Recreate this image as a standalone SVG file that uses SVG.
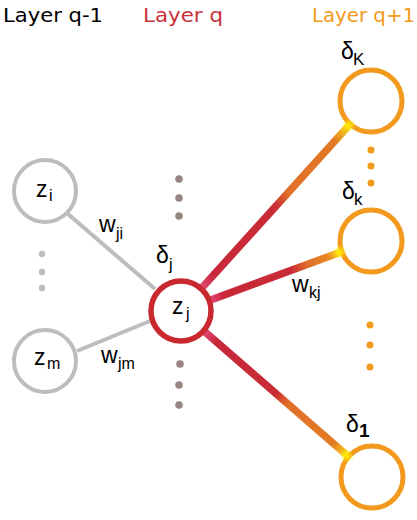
<svg xmlns="http://www.w3.org/2000/svg" width="417" height="520" viewBox="0 0 417 520">
<style>
.layer{font-family:"DejaVu Sans","Liberation Sans",sans-serif;font-size:20px}
.lbl{font-family:"Liberation Sans","DejaVu Sans",sans-serif;fill:#000}
.big{font-size:23px}
.sub{font-size:16px}
.gray{fill:#fff;stroke:#bdbdbd;stroke-width:4}
.red{fill:#fff;stroke:#c8282e;stroke-width:5.5}
.orange{fill:#fff;stroke:#f39a1e;stroke-width:5}
.gedge{stroke:#bdbdbd;stroke-width:4;fill:none}
.cedge{stroke-width:7.5;fill:none;stroke-linecap:butt}
.gd{fill:#bdbdbd}
.md{fill:#9a8585}
.od{fill:#f39a1e}
</style>
<defs>
<linearGradient id="gK" gradientUnits="userSpaceOnUse" x1="201.8" y1="288" x2="349.5" y2="124.7">
<stop offset="0" stop-color="#e24a7e"/><stop offset="0.08" stop-color="#c8283a"/><stop offset="0.5" stop-color="#c92c35"/><stop offset="0.58" stop-color="#e0702a"/><stop offset="0.9" stop-color="#e27a24"/><stop offset="1" stop-color="#ffe31a"/>
</linearGradient>
<linearGradient id="gk" gradientUnits="userSpaceOnUse" x1="210" y1="300.3" x2="341" y2="252">
<stop offset="0" stop-color="#e24a7e"/><stop offset="0.1" stop-color="#c8283a"/><stop offset="0.62" stop-color="#c92c35"/><stop offset="0.75" stop-color="#e0702a"/><stop offset="0.9" stop-color="#ea8a22"/><stop offset="1" stop-color="#ffe31a"/>
</linearGradient>
<linearGradient id="g1" gradientUnits="userSpaceOnUse" x1="204.4" y1="331.3" x2="347.8" y2="456">
<stop offset="0" stop-color="#e24a7e"/><stop offset="0.08" stop-color="#c8283a"/><stop offset="0.5" stop-color="#c92c35"/><stop offset="0.58" stop-color="#e0702a"/><stop offset="0.9" stop-color="#e27a24"/><stop offset="1" stop-color="#ffe31a"/>
</linearGradient>
<radialGradient id="glow"><stop offset="0" stop-color="#ffee00" stop-opacity="1"/><stop offset="1" stop-color="#ffee00" stop-opacity="0"/></radialGradient>
</defs>

<g id="titles">
<text class="layer" x="3" y="22" fill="#000" textLength="100" lengthAdjust="spacingAndGlyphs">Layer q-1</text>
<text class="layer" x="143" y="22" fill="#c8323c" textLength="80" lengthAdjust="spacingAndGlyphs">Layer q</text>
<text class="layer" x="312" y="22" fill="#f39a1e" textLength="103" lengthAdjust="spacingAndGlyphs">Layer q+1</text>
</g>

<g id="connectors">
<line class="gedge" x1="68" y1="214" x2="155" y2="289"/>
<line class="gedge" x1="77" y1="351" x2="150" y2="321"/>
<line class="cedge" stroke="url(#gK)" x1="201.8" y1="288" x2="349.5" y2="124.7"/>
<line class="cedge" stroke="url(#gk)" x1="210" y1="300.3" x2="341" y2="252"/>
<line class="cedge" stroke="url(#g1)" x1="204.4" y1="331.3" x2="347.8" y2="456"/>
</g>

<g id="node-zi">
<circle class="gray" cx="45" cy="191" r="31"/>
<text class="lbl big" x="36" y="197">z</text><text class="lbl sub" x="49" y="201">i</text>
</g>
<g id="node-zm">
<circle class="gray" cx="45" cy="361" r="31"/>
<text class="lbl big" x="34" y="365">z</text><text class="lbl sub" x="47" y="369">m</text>
</g>
<g id="dots-left">
<circle class="gd" cx="42" cy="254" r="3.2"/><circle class="gd" cx="42" cy="272" r="3.2"/><circle class="gd" cx="42" cy="288" r="3.2"/>
</g>

<g id="node-zj">
<circle class="red" cx="181" cy="311" r="30"/>
<text class="lbl big" x="172" y="314">z</text><text class="lbl sub" x="186" y="319">j</text>
<text class="lbl big" x="156" y="263">δ</text><text class="lbl sub" x="169" y="270">j</text>
</g>
<g id="dots-mid">
<circle class="md" cx="179" cy="179" r="3.8"/><circle class="md" cx="179" cy="198" r="3.8"/><circle class="md" cx="179" cy="216" r="3.8"/>
<circle class="md" cx="180" cy="364" r="3.8"/><circle class="md" cx="179" cy="385" r="3.8"/><circle class="md" cx="179" cy="405" r="3.8"/>
</g>

<g id="node-dK">
<circle class="orange" cx="371" cy="101" r="31"/>
<circle cx="349" cy="125" r="7" fill="url(#glow)"/>
<text class="lbl big" x="341" y="59">δ</text><text class="lbl" font-size="17" x="353" y="65">K</text>
</g>
<g id="node-dk">
<circle class="orange" cx="371" cy="241" r="31"/>
<circle cx="340" cy="252" r="7" fill="url(#glow)"/>
<text class="lbl big" x="342" y="199">δ</text><text class="lbl" font-size="17" x="354" y="205">k</text>
</g>
<g id="node-d1">
<circle class="orange" cx="372" cy="477" r="31"/>
<circle cx="347" cy="456" r="7" fill="url(#glow)"/>
<text class="lbl big" x="346" y="432">δ</text><text class="lbl" font-size="19" font-weight="bold" x="359" y="437">1</text>
</g>
<g id="dots-right">
<circle class="od" cx="371" cy="150" r="3.5"/><circle class="od" cx="371" cy="166" r="3.5"/><circle class="od" cx="371" cy="183" r="3.5"/>
<circle class="od" cx="370" cy="325" r="3.5"/><circle class="od" cx="370" cy="345" r="3.5"/><circle class="od" cx="370" cy="367" r="3.5"/>
</g>

<g id="edge-labels">
<text class="lbl big" x="99" y="232">w</text><text class="lbl sub" x="116" y="239">ji</text>
<text class="lbl big" x="101" y="363">w</text><text class="lbl sub" x="118" y="369">jm</text>
<text class="lbl big" x="292" y="292">w</text><text class="lbl sub" x="309" y="298">kj</text>
</g>
</svg>
